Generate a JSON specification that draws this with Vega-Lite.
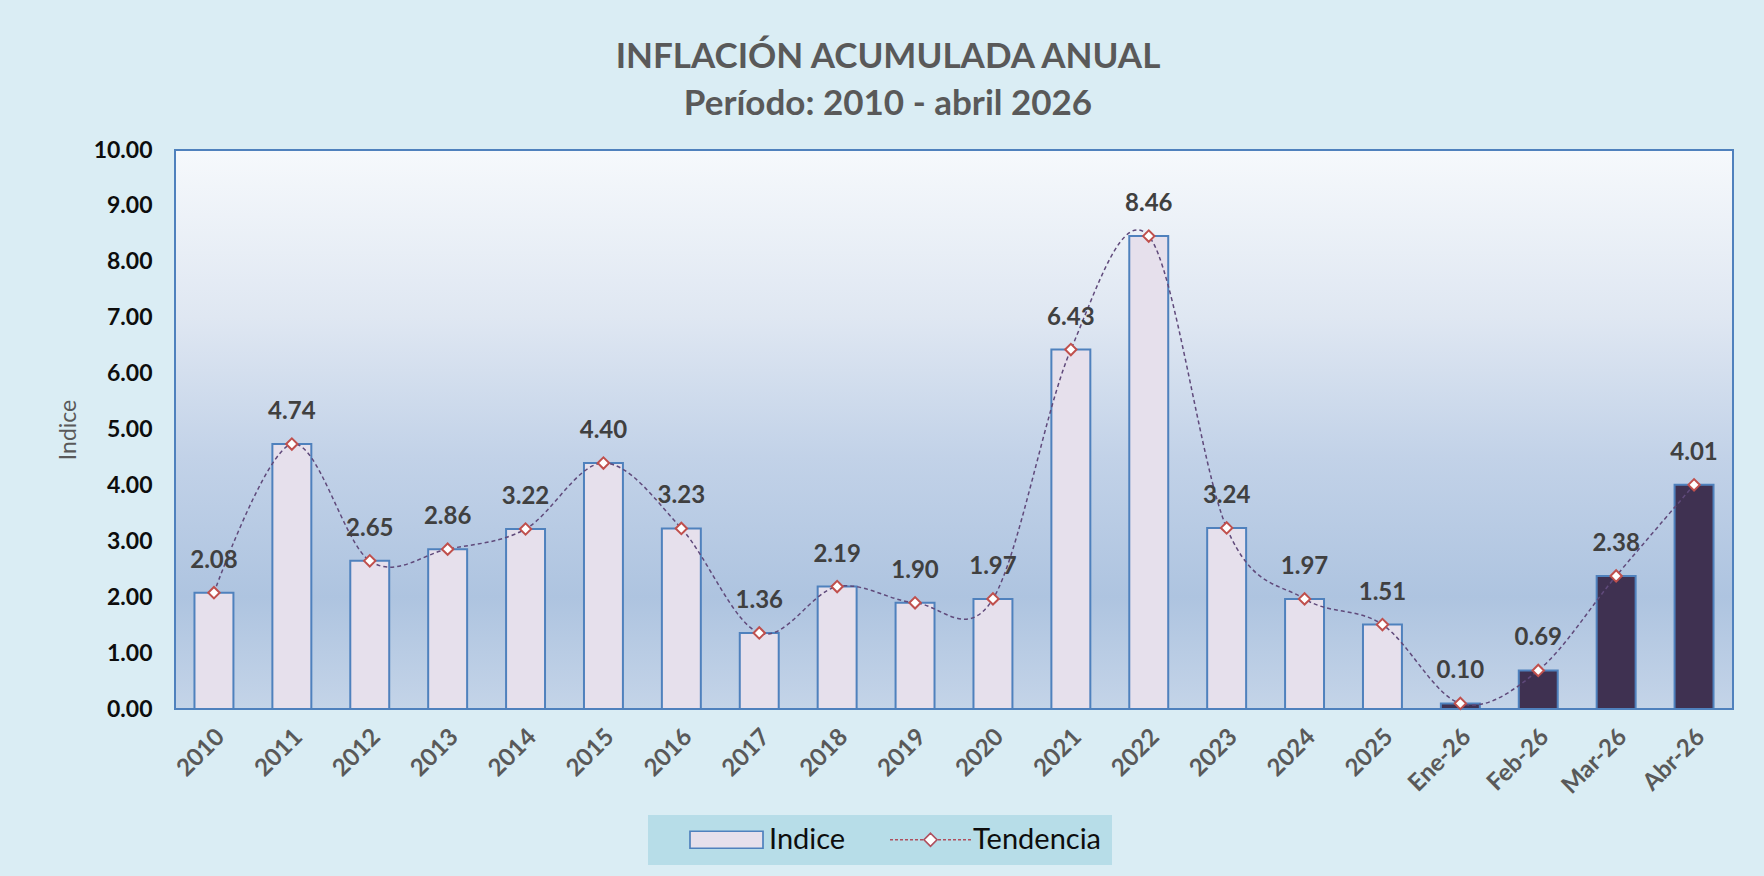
{
  "$schema": "https://vega.github.io/schema/vega-lite/v6.json",
  "autosize": {"type": "none"},
  "padding": {"left": 175, "top": 150, "right": 31, "bottom": 167},
  "width": 1558,
  "height": 559,
  "background": "#DAEDF4",
  "config": {"font": "Lato"},
  "view": {
    "stroke": "#4F81BD",
    "strokeWidth": 2,
    "fill": {
      "gradient": "linear",
      "x1": 0, "y1": 0, "x2": 0, "y2": 1,
      "stops": [
        {"offset": 0, "color": "#F6F9FC"},
        {"offset": 0.3, "color": "#DFE7F2"},
        {"offset": 0.55, "color": "#C2D2E8"},
        {"offset": 0.8, "color": "#AEC4E0"},
        {"offset": 1, "color": "#C4D4E8"}
      ]
    }
  },
  "title": {
    "text": ["INFLACIÓN ACUMULADA ANUAL", "Período: 2010 - abril 2026"],
    "font": "Lato",
    "fontSize": 35,
    "fontWeight": "bold",
    "color": "#595959",
    "lineHeight": 47,
    "anchor": "middle",
    "frame": "group",
    "dx": -66,
    "offset": 17
  },
  "data": {
    "values": [
      {"anio": "2010", "valor": 2.08, "periodo": "anual"},
      {"anio": "2011", "valor": 4.74, "periodo": "anual"},
      {"anio": "2012", "valor": 2.65, "periodo": "anual"},
      {"anio": "2013", "valor": 2.86, "periodo": "anual"},
      {"anio": "2014", "valor": 3.22, "periodo": "anual"},
      {"anio": "2015", "valor": 4.40, "periodo": "anual"},
      {"anio": "2016", "valor": 3.23, "periodo": "anual"},
      {"anio": "2017", "valor": 1.36, "periodo": "anual"},
      {"anio": "2018", "valor": 2.19, "periodo": "anual"},
      {"anio": "2019", "valor": 1.90, "periodo": "anual"},
      {"anio": "2020", "valor": 1.97, "periodo": "anual"},
      {"anio": "2021", "valor": 6.43, "periodo": "anual"},
      {"anio": "2022", "valor": 8.46, "periodo": "anual"},
      {"anio": "2023", "valor": 3.24, "periodo": "anual"},
      {"anio": "2024", "valor": 1.97, "periodo": "anual"},
      {"anio": "2025", "valor": 1.51, "periodo": "anual"},
      {"anio": "Ene-26", "valor": 0.10, "periodo": "mensual"},
      {"anio": "Feb-26", "valor": 0.69, "periodo": "mensual"},
      {"anio": "Mar-26", "valor": 2.38, "periodo": "mensual"},
      {"anio": "Abr-26", "valor": 4.01, "periodo": "mensual"}
    ]
  },
  "encoding": {
    "x": {
      "field": "anio",
      "type": "nominal",
      "sort": null,
      "scale": {"paddingInner": 0.5, "paddingOuter": 0.25},
      "axis": {
        "title": null,
        "labelAngle": -45,
        "labelFont": "Lato",
        "labelFontSize": 24,
        "labelFontWeight": "bold",
        "labelColor": "#595959",
        "labelAlign": "right",
        "labelBaseline": "middle",
        "labelPadding": 24,
        "labelOffset": 7,
        "domain": false,
        "ticks": false
      }
    },
    "y": {
      "field": "valor",
      "type": "quantitative",
      "scale": {"domain": [0, 10], "nice": false},
      "axis": {
        "title": "Indice",
        "titleFont": "Lato",
        "titleFontSize": 23,
        "titleFontWeight": "normal",
        "titleColor": "#595959",
        "titlePadding": 13,
        "labelFont": "Lato",
        "labelFontSize": 23,
        "labelFontWeight": "bold",
        "labelColor": "#0D0D0D",
        "labelPadding": 23,
        "format": ".2f",
        "values": [0, 1, 2, 3, 4, 5, 6, 7, 8, 9, 10],
        "domain": false,
        "ticks": false,
        "grid": false
      }
    }
  },
  "layer": [
    {
      "mark": {"type": "bar", "stroke": "#4F81BD", "strokeWidth": 2},
      "encoding": {
        "fill": {
          "condition": {"test": "datum.periodo === 'mensual'", "value": "#3F3151"},
          "value": "#E6E0EC"
        }
      }
    },
    {
      "mark": {
        "type": "line",
        "interpolate": "cardinal",
        "color": "#604A7B",
        "strokeWidth": 1.5,
        "strokeDash": [4, 3]
      }
    },
    {
      "mark": {
        "type": "point",
        "shape": "diamond",
        "filled": true,
        "fill": "#FFFFFF",
        "stroke": "#C0504D",
        "strokeWidth": 2,
        "size": 130,
        "opacity": 1
      }
    },
    {
      "mark": {
        "type": "text",
        "font": "Lato",
        "fontSize": 24,
        "fontWeight": "bold",
        "color": "#404040",
        "baseline": "middle",
        "align": "center",
        "dy": -32
      },
      "encoding": {
        "text": {"field": "valor", "type": "quantitative", "format": ".2f"}
      }
    },
    {
      "data": {"values": []},
      "mark": {"type": "point", "filled": true, "opacity": 1, "strokeWidth": 1.7},
      "encoding": {
        "shape": {
          "field": "serie",
          "type": "nominal",
          "scale": {
            "domain": ["Indice", "Tendencia"],
            "range": [
              "M-3.65,-0.85H3.65V0.85H-3.65Z",
              "M-4.05,0H-3.75M-3.55,0H-3.25M-3.05,0H-2.75M-2.55,0H-2.25M-2.05,0H-1.75M-1.55,0H-1.25M-1.05,0H-0.75M0.75,0H1.05M1.25,0H1.55M1.75,0H2.05M2.25,0H2.55M2.75,0H3.05M3.25,0H3.55M3.75,0H4.05M0,-0.65L0.65,0L0,0.65L-0.65,0Z"
            ]
          },
          "legend": {
            "orient": "none",
            "legendX": 473,
            "legendY": 665,
            "direction": "horizontal",
            "title": null,
            "fillColor": "#B7DDE8",
            "padding": 10,
            "symbolSize": 400,
            "symbolOffset": 54,
            "symbolStrokeWidth": 1.7,
            "symbolOpacity": 1,
            "labelFont": "Lato",
            "labelFontSize": 29,
            "labelColor": "#0D0D0D",
            "labelOffset": 28,
            "columnPadding": 16
          }
        },
        "fill": {
          "field": "serie",
          "type": "nominal",
          "scale": {"domain": ["Indice", "Tendencia"], "range": ["#E6E0EC", "#FFFFFF"]},
          "legend": {
            "orient": "none",
            "legendX": 473,
            "legendY": 665,
            "direction": "horizontal",
            "title": null
          }
        },
        "stroke": {
          "field": "serie",
          "type": "nominal",
          "scale": {"domain": ["Indice", "Tendencia"], "range": ["#4F81BD", "#B0505E"]},
          "legend": {
            "orient": "none",
            "legendX": 473,
            "legendY": 665,
            "direction": "horizontal",
            "title": null
          }
        }
      }
    }
  ]
}
